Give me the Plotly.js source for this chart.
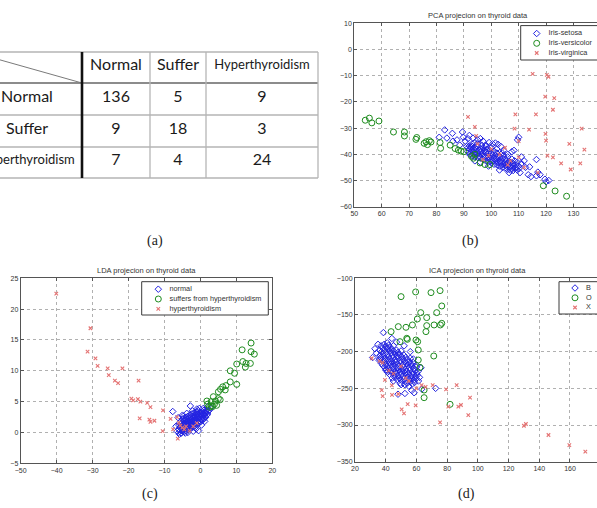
<!DOCTYPE html>
<html><head><meta charset="utf-8">
<script src="https://cdn.plot.ly/plotly-3.0.1.min.js"></script>
<style>html,body{margin:0;padding:0;background:#fff;}#chart{width:597px;height:508px;}</style>
</head><body><div id="chart"></div>
<script>
// ---------------- DATA ----------------
const tableCols = ['Normal', 'Suffer', 'Hyperthyroidism'];
const tableRows = ['Normal', 'Suffer', 'Hyperthyroidism'];
const confusion = [[136, 5, 9], [9, 18, 3], [7, 4, 24]];

const panelLabels = ['(a)', '(b)', '(c)', '(d)'];
const pcaTitle = 'PCA projecion on thyroid data';
const ldaTitle = 'LDA projecion on thyroid data';
const icaTitle = 'ICA projecion on thyroid data';
const pcaLegend = ['Iris-setosa', 'Iris-versicolor', 'Iris-virginica'];
const ldaLegend = ['normal', 'suffers from hyperthyroidism', 'hyperthyroidism'];
const icaLegend = ['B', 'O', 'X'];

// PCA (b)
const pcaNormal = [
 [81,-33.5],[83,-30.7],[83.8,-33.8],[85.8,-32],[86,-35],[87.5,-34.5],[88.5,-36.5],[89.5,-31.5],[89.8,-33.5],[90.5,-35],
 [91,-37],[91.5,-34],[92,-32.8],[93,-36],[93.3,-33.8],[94,-35.5],[95,-34.5],[96,-34],[96.5,-36.5],[97,-35],
 [98,-37],[99.2,-35.5],[100.5,-36],[101.5,-35.7],[102.5,-36.2],[103.5,-37],[104.5,-38.5],[107.5,-39],[108.3,-38.5],[110,-33.5],
 [109.6,-34.5],[112,-42.5],[114,-44.8],[116.5,-42],[113.5,-47.8],[117,-46.8],[117.8,-47.8],[119.6,-49.5],[120,-50.5],[114.5,-48.5],
 [116.5,-48.2],[121,-50],
 [91.5,-37.5],[91.5,-39],[92,-38],[92,-36.8],[92,-40],[92.5,-37.2],[92.5,-39.5],[93,-38.5],[93,-37],[93,-40.5],
 [93.5,-38],[93.5,-39.8],[94,-37.5],[94,-39],[94,-41],[94.5,-38.2],[94.5,-40],[95,-37],[95,-39.5],[95,-41.2],
 [95.5,-38.5],[95.5,-40.5],[96,-37.8],[96,-39],[96,-41.5],[96.5,-38.8],[96.5,-40.2],[97,-37.5],[97,-39.8],[97,-42],
 [97.5,-38.6],[97.5,-41],[98,-39.2],[98,-40.5],[98,-42.5],[98.5,-38],[98.5,-41.5],[99,-39.5],[99,-40.8],[99,-43],
 [99.5,-38.5],[99.5,-42],[100,-39.5],[100,-41],[100,-43.2],[100.5,-40.2],[100.5,-42.5],[101,-38.8],[101,-41.5],[101,-43.8],
 [101.5,-40.5],[101.5,-42.8],[102,-39.5],[102,-41.8],[102,-44],[102.5,-40.8],[102.5,-43.2],[103,-41],[103,-42.5],[103,-44.5],
 [103.5,-40],[103.5,-43.5],[104,-41.5],[104,-42.8],[104,-45],[104.5,-40.5],[104.5,-44],[105,-41.8],[105,-43.2],[105,-45.3],
 [105.5,-42.5],[105.5,-44.5],[106,-41],[106,-43.5],[106,-45.8],[106.5,-42.8],[106.5,-44.8],[107,-43],[107,-44.2],[107,-46],
 [107.5,-41.8],[107.5,-45.3],[108,-43.5],[108,-44.5],[108,-46.2],[108.5,-42.5],[108.5,-45.5],[109,-44],[109,-45.2],[109.5,-43],
 [109.5,-46],[110,-44.5],[110,-45.5],
 [95,-36],[98,-36.5],[104,-39.5],[106,-40],[111,-43.5],[111,-41],[112.5,-45],[110.5,-47],[106.5,-47],[103,-46],
 [99,-44.5],[96,-43],[100,-37.5],[102,-38],[94,-42.5]
];
const pcaSuffer = [
 [54,-27],[55.5,-26.2],[56.4,-28],[59,-27.3],[64.3,-31.5],[68.3,-31.5],[68.3,-33],[72.5,-34.3],[72.8,-33.6],[75.5,-35.8],
 [76.2,-35.2],[76.7,-36.3],[77.4,-34.8],[78,-35.3],[81.3,-35.5],[81.5,-37.7],[85,-36.5],[86.8,-37.8],[88,-38.4],[89,-38.8],
 [90,-39],[92.8,-40.8],[93.5,-41.5],[94,-40],[95.9,-43.3],[97.7,-43.9],[99.5,-43.9],[119,-52],[123.3,-54],[127.5,-56]
];
const pcaHyper = [
 [91.5,-25.7],[94,-29.5],[94.5,-33],[108.8,-24.8],[108.5,-30.2],[113.8,-30.6],[116.3,-24.8],[115.1,-9.3],[120.3,-9.7],[120.9,-10.4],
 [119.7,-18],[123,-18.6],[122.5,-23],[119.8,-32.2],[120,-34.8],[120.5,-40.5],[122.5,-41.2],[110,-41.2],[125.5,-43.5],[128.5,-36],
 [129,-45.8],[132.5,-43.5],[133,-30.2],[134,-38.2],[110,-35],[97,-42],[103,-40],[106,-44],[100,-38],[112,-45],
 [117,-47],[105,-37.5],[95,-36],[99,-40.5],[107,-42.5]
];

// LDA (c)
const ldaNormal = [
 [-7.7,3.4],[-2.8,4.3],[-6.2,2.4],[-6.5,0.2],[-5.8,-0.3],[-4.2,-0.1],[-3.5,0],[2.5,3.6],[2,4.2],[3,4],
 [-1,3.8],[-5,2.8],[1.5,3.5],[-0.5,0.3],[-2,0.2],[-3.8,3.1],[-2.2,3.5],[-4.8,2.6],[0.8,3.9],[-6.8,1.0],
 [-1.2,0.6],[0.3,1.2],[-0.3,3.9],[1.2,1.8],[-5.3,-0.1],
 [-6,0.5],[-6,1.2],[-6,0],[-5.75,0.8],[-5.75,1.6],[-5.5,0.3],[-5.5,1.0],[-5.5,1.8],[-5.25,0.6],[-5.25,1.4],
 [-5,0.2],[-5,0.9],[-5,1.6],[-5,2.2],[-4.75,0.5],[-4.75,1.2],[-4.75,1.9],[-4.5,0.1],[-4.5,0.8],[-4.5,1.5],
 [-4.5,2.3],[-4.25,0.6],[-4.25,1.3],[-4.25,2.0],[-4,0.3],[-4,1.0],[-4,1.7],[-4,2.5],[-3.75,0.7],[-3.75,1.4],
 [-3.75,2.1],[-3.5,0.4],[-3.5,1.1],[-3.5,1.8],[-3.5,2.6],[-3.25,0.9],[-3.25,1.6],[-3.25,2.3],[-3,0.6],[-3,1.3],
 [-3,2.0],[-3,2.8],[-2.75,1.0],[-2.75,1.7],[-2.75,2.4],[-2.5,0.7],[-2.5,1.4],[-2.5,2.1],[-2.5,3.0],[-2.25,1.2],
 [-2.25,1.9],[-2.25,2.6],[-2,0.9],[-2,1.6],[-2,2.3],[-2,3.1],[-1.75,1.3],[-1.75,2.0],[-1.75,2.7],[-1.5,1.1],
 [-1.5,1.8],[-1.5,2.5],[-1.5,3.2],[-1.25,1.5],[-1.25,2.2],[-1.25,2.9],[-1,1.3],[-1,2.0],[-1,2.7],[-1,3.4],
 [-0.75,1.7],[-0.75,2.4],[-0.75,3.0],[-0.5,1.5],[-0.5,2.2],[-0.5,2.8],[-0.5,3.5],[-0.25,1.9],[-0.25,2.5],[-0.25,3.2],
 [0,1.7],[0,2.4],[0,3.0],[0.25,2.1],[0.25,2.7],[0.25,3.3],[0.5,2.0],[0.5,2.6],[0.5,3.4],[0.75,2.3],
 [0.75,3.0],[1,2.2],[1,2.9],[1,3.6],[1.25,2.6],[1.25,3.2],[1.5,2.5],[1.5,3.1],[1.75,2.8],[1.75,3.6],
 [2,3.0],[2,3.4]
];
const ldaSuffer = [
 [14.1,14.5],[11.6,13.4],[14.1,13.1],[15.0,12.7],[10.1,11.1],[11.8,11.5],[12.7,11.2],[13.9,11.2],[12.5,10.6],[8.3,10],
 [9.5,9.6],[10.1,7.8],[8.3,8.2],[7.1,7.6],[6.2,7.4],[6.9,6.9],[5.6,7],[5,6.6],[3.6,5.8],[5,5.5],
 [5.5,5.3],[3,5],[3.9,4.6],[3.4,4.2],[4.5,4.4],[2.5,4.1],[3,4.3],[2,4.6],[4.2,5.1],[1.8,5.1]
];
const ldaHyper = [
 [-40.1,22.5],[-30.6,16.9],[-31.4,13.1],[-29.2,12],[-28.6,10.8],[-25.8,10.4],[-25.5,9.3],[-23.8,8.4],[-22.9,8],[-21.7,10.4],
 [-17.2,8.4],[-19.2,5.5],[-18.7,5.2],[-17.4,5.4],[-16.7,5],[-14.8,4.8],[-13.9,4.1],[-16.9,2.3],[-14.2,2.1],[-13.9,1.7],
 [-12.8,1.9],[-10.4,3.6],[-10.5,0.2],[-8.3,2.2],[-7.6,0.5],[-6.3,-1],[-5.6,1.1],[-6,1.6],[-5,0.8],[-4,1],
 [-3,0.3],[-2,1],[-4.5,0.5],[-1,1.5],[-6.5,2.5]
];

// ICA (d)
const icaNormal = [
 [38.5,-174],[33,-196],[35,-190],[63,-222],[63.5,-251],[72.5,-250],[57,-253],[52.5,-257],[58.5,-256],[60.5,-232],
 [48,-258],[55,-247],[44,-182],[47,-187],[52,-192],[56,-200],[58,-210],[60,-218],[62,-235],[50,-245],
 [45,-240],[40,-225],[36,-210],[31.5,-208],[34,-202],
 [36,-198],[36.4,-205],[35.8,-212],[37,-192],[37.3,-200],[36.8,-208],[37.2,-216],[38,-195],[38.4,-203],[37.9,-211],
 [38.2,-219],[39,-190],[39.3,-198],[38.8,-206],[39.2,-214],[39.5,-222],[40,-193],[40.4,-201],[39.8,-209],[40.2,-217],
 [40.5,-225],[41,-188],[41.3,-196],[40.8,-204],[41.4,-212],[41,-220],[41.2,-228],[42,-191],[42.4,-199],[41.8,-207],
 [42.3,-215],[42,-223],[42.5,-231],[43,-194],[43.4,-202],[42.8,-210],[43.2,-218],[43.5,-226],[44,-197],[44.3,-205],
 [43.8,-213],[44.4,-221],[44,-229],[44.2,-236],[45,-192],[45.4,-200],[44.8,-208],[45.3,-216],[45,-224],[45.5,-232],
 [46,-203],[46.3,-211],[45.8,-219],[46.4,-227],[46,-235],[47,-198],[47.4,-206],[46.8,-214],[47.3,-222],[47,-230],
 [47.5,-238],[48,-201],[48.3,-209],[47.8,-217],[48.4,-225],[48,-233],[49,-204],[49.4,-212],[48.8,-220],[49.3,-228],
 [49,-236],[49.5,-243],[50,-199],[50.3,-207],[49.8,-215],[50.4,-223],[50,-231],[50.2,-239],[51,-210],[51.4,-218],
 [50.8,-226],[51.3,-234],[52,-205],[52.3,-213],[51.8,-221],[52.4,-229],[52,-237],[52.5,-245],[53,-208],[53.4,-216],
 [52.8,-224],[53.3,-232],[53,-240],[54,-211],[54.3,-219],[53.8,-227],[54.4,-235],[54,-243],[55,-214],[55.4,-222],
 [54.8,-230],[55.3,-238],[56,-209],[56.3,-217],[55.8,-225],[56.4,-233],[56,-241],[57,-220],[57.4,-228],[56.8,-236],
 [57.3,-244],[58,-215],[58.3,-223],[57.8,-231],[58.4,-239],[59,-226],[59.4,-234],[58.8,-242],[60,-221],[60.3,-229],
 [59.8,-237],[61,-227],[61.3,-240]
];
const icaSuffer = [
 [50,-125],[59.5,-118.6],[69.5,-119.5],[75.4,-116.8],[76.5,-137.7],[73.2,-146.8],[62.8,-146.8],[60.6,-155.5],[66.7,-153.6],[76.5,-161.4],
 [75.6,-163.6],[71.5,-163.6],[66.7,-164.5],[57.4,-163.6],[53.2,-166.8],[48.2,-165.9],[66.2,-172.7],[43.5,-172.7],[49.3,-186.4],[53.7,-181.8],
 [54.1,-183.2],[59.7,-184.1],[60.8,-186.4],[61.2,-197.7],[71.3,-205.9],[61.2,-211.4],[62.3,-221.4],[65,-252.3],[65,-262.7],[81.9,-271.8]
];
const icaHyper = [
 [30.9,-209],[39.5,-238.6],[37.4,-252.3],[38,-260.5],[44.1,-259],[48.2,-257.7],[50.4,-278.6],[51.9,-284],[54.3,-271.4],[59.5,-273.2],
 [63.4,-245.5],[70.6,-245.5],[79.3,-251.4],[75.4,-296.4],[80.8,-275],[87.3,-275],[89,-272.7],[86.2,-245.5],[94.9,-262.7],[93.8,-286.4],
 [130,-301],[131.3,-298.6],[146,-313.6],[159.6,-327.3],[170,-336.4],[45,-230],[50,-220],[38,-215],[55,-240],[60,-250],
 [66,-248],[44,-246],[36,-213],[53,-236],[42,-226]
];

// ---------------- STYLE / LAYOUT ----------------
const W = 597, H = 508;
const FONT = 'Liberation Sans, Arial, sans-serif';
const BLUE = 'rgb(35,35,225)', GREEN = 'rgb(30,140,30)', RED = 'rgb(228,115,115)';
const px = v => v / W;          // pixel -> paper x
const py = v => 1 - v / H;      // pixel -> paper y

const mk = {
  n: {symbol: 'diamond-open', size: 5, color: BLUE, line: {width: 1, color: BLUE}},
  s: {symbol: 'circle-open', size: 6, color: GREEN, line: {width: 1, color: GREEN}},
  h: {symbol: 'x-thin', size: 3.5, color: RED, line: {width: 1.1, color: RED}}
};
const X = a => a.map(p => p[0]);
const Y = a => a.map(p => p[1]);
function pts(a, m, xa, ya) {
  return {type: 'scatter', mode: 'markers', x: X(a), y: Y(a), xaxis: xa, yaxis: ya,
          marker: m, hoverinfo: 'skip', showlegend: false, cliponaxis: true};
}

const traces = [];
// data points
traces.push(pts(pcaNormal, mk.n, 'x2', 'y2'), pts(pcaSuffer, mk.s, 'x2', 'y2'), pts(pcaHyper, mk.h, 'x2', 'y2'));
traces.push(pts(ldaNormal, mk.n, 'x', 'y'), pts(ldaSuffer, mk.s, 'x', 'y'), pts(ldaHyper, mk.h, 'x', 'y'));
traces.push(pts(icaNormal, mk.n, 'x3', 'y3'), pts(icaSuffer, mk.s, 'x3', 'y3'), pts(icaHyper, mk.h, 'x3', 'y3'));

// table (axis x4/y4 in pixel-like units)
const colEdges = [-28, 82, 150, 206, 318];
const rowEdges = [52, 83, 115, 147, 178];
const cx = i => (colEdges[i] + colEdges[i + 1]) / 2;
const cy = j => (rowEdges[j] + rowEdges[j + 1]) / 2 - 1.5;
const tx = [], ty = [], tt = [], ts = [];
tableCols.forEach((c, i) => { tx.push(cx(i + 1)); ty.push(cy(0)); tt.push(c); ts.push(c.length > 10 ? 13 : 16); });
tableRows.forEach((r, j) => {
  tx.push(cx(0)); ty.push(cy(j + 1)); tt.push(r); ts.push(r.length > 10 ? 13 : 16);
  confusion[j].forEach((v, i) => { tx.push(cx(i + 1)); ty.push(cy(j + 1)); tt.push(String(v)); ts.push(16); });
});
traces.push({type: 'scatter', mode: 'text', x: tx, y: ty, text: tt, xaxis: 'x4', yaxis: 'y4',
  textposition: 'middle center', textfont: {family: 'Lato, Liberation Sans, sans-serif', size: ts, color: '#1a1a1a'},
  hoverinfo: 'skip', showlegend: false});

// manual legends (box + markers + text) on helper axes
function legend(labels, xa, ya, box, mx, tx0, rows) {
  traces.push({type: 'scatter', mode: 'lines', x: [box[0], box[1], box[1], box[0], box[0]],
    y: [box[2], box[2], box[3], box[3], box[2]], xaxis: xa, yaxis: ya, fill: 'toself',
    fillcolor: '#ffffff', line: {color: '#3a3a3a', width: 1}, hoverinfo: 'skip', showlegend: false});
  [mk.n, mk.s, mk.h].forEach((m, i) => {
    traces.push({type: 'scatter', mode: 'markers', x: [mx], y: [rows[i]], xaxis: xa, yaxis: ya,
      marker: m, hoverinfo: 'skip', showlegend: false});
  });
  traces.push({type: 'scatter', mode: 'text', x: labels.map(() => tx0), y: rows, text: labels,
    xaxis: xa, yaxis: ya, textposition: 'middle right', textfont: {family: FONT, size: 7.3, color: '#333'},
    hoverinfo: 'skip', showlegend: false});
}
legend(pcaLegend, 'x5', 'y5', [520.7, 660, 25.6, 60], 536.7, 548.5, [33.5, 43.3, 53.0]);
legend(ldaLegend, 'x6', 'y6', [141.7, 268.3, 281.7, 315], 158.3, 169.5, [289.2, 299.0, 308.8]);
legend(icaLegend, 'x7', 'y7', [559, 660, 281.7, 314], 575, 586, [288.0, 297.8, 307.5]);

function dataAxis(domain, range, dtick, extra) {
  return Object.assign({domain: domain, range: range, dtick: dtick, tick0: 0, autorange: false,
    showgrid: true, gridcolor: '#b0b0b0', griddash: 'dot', gridwidth: 1, zeroline: false,
    showline: true, linecolor: '#555', linewidth: 1, ticks: 'inside', ticklen: 3, tickwidth: 1,
    tickcolor: '#555', tickfont: {family: FONT, size: 7, color: '#333'}, fixedrange: true}, extra);
}
function hidden(domain, range, anchor) {
  return {domain: domain, range: range, autorange: false, visible: false, fixedrange: true, anchor: anchor};
}

const shapes = [];
const tl = (x0, y0, x1, y1, color, width) => shapes.push({type: 'line', xref: 'x4', yref: 'y4',
  x0: x0, y0: y0, x1: x1, y1: y1, line: {color: color, width: width}});
[52, 115, 147, 178].forEach(y => tl(-28, y, 318, y, '#b5b5b5', 1.3));
tl(-28, 83, 318, 83, '#8c8c8c', 1.8);
[150, 206, 318].forEach(x => tl(x, 52, x, 178, '#b5b5b5', 1.3));
tl(-28, 52, 82, 83, '#7a7a7a', 1);
tl(82, 52, 82, 178, '#111', 2.6);

const annotations = [
  {text: panelLabels[0], x: px(155), y: py(241)},
  {text: panelLabels[1], x: px(470), y: py(241)},
  {text: panelLabels[2], x: px(150), y: py(494)},
  {text: panelLabels[3], x: px(466), y: py(494)}
].map(a => Object.assign(a, {xref: 'paper', yref: 'paper', showarrow: false, xanchor: 'center', yanchor: 'middle',
  font: {family: 'Liberation Serif, Times New Roman, serif', size: 14, color: '#222'}}));
[[pcaTitle, 478, 15.5], [ldaTitle, 146.5, 270.8], [icaTitle, 478, 270.8]].forEach(t => annotations.push({
  text: t[0], x: px(t[1]), y: py(t[2]), xref: 'paper', yref: 'paper', showarrow: false,
  xanchor: 'center', yanchor: 'middle', font: {family: FONT, size: 7.5, color: '#333'}}));

const layout = {
  width: W, height: H, margin: {l: 0, r: 0, t: 0, b: 0, pad: 0},
  paper_bgcolor: '#fff', plot_bgcolor: 'rgba(0,0,0,0)', showlegend: false, hovermode: false,
  xaxis: dataAxis([px(20.7), px(272.3)], [-50, 20], 10, {anchor: 'y', mirror: 'ticks'}),
  yaxis: dataAxis([py(463.3), py(278.3)], [-5, 25], 5, {anchor: 'x', mirror: 'ticks'}),
  xaxis2: dataAxis([px(354.3), 1], [50, 138.6], 10, {anchor: 'y2', mirror: 'ticks'}),
  yaxis2: dataAxis([py(206.7), py(23.3)], [-60, 10], 10, {anchor: 'x2', mirror: false}),
  xaxis3: dataAxis([px(355), 1], [20, 177.6], 20, {anchor: 'y3', mirror: 'ticks'}),
  yaxis3: dataAxis([py(461.7), py(278.3)], [-350, -100], 50, {anchor: 'x3', mirror: false}),
  xaxis4: hidden([0, px(330)], [0, 330], 'y4'),
  yaxis4: hidden([py(200), py(30)], [200, 30], 'x4'),
  xaxis5: hidden([px(510), 1], [510, 597], 'y5'),
  yaxis5: hidden([py(70), py(15)], [70, 15], 'x5'),
  xaxis6: hidden([px(130), px(280)], [130, 280], 'y6'),
  yaxis6: hidden([py(325), py(272)], [325, 272], 'x6'),
  xaxis7: hidden([px(550), 1], [550, 597], 'y7'),
  yaxis7: hidden([py(322), py(272)], [322, 272], 'x7'),
  shapes: shapes, annotations: annotations
};
Plotly.newPlot('chart', traces, layout, {displayModeBar: false, staticPlot: true});
</script></body></html>
